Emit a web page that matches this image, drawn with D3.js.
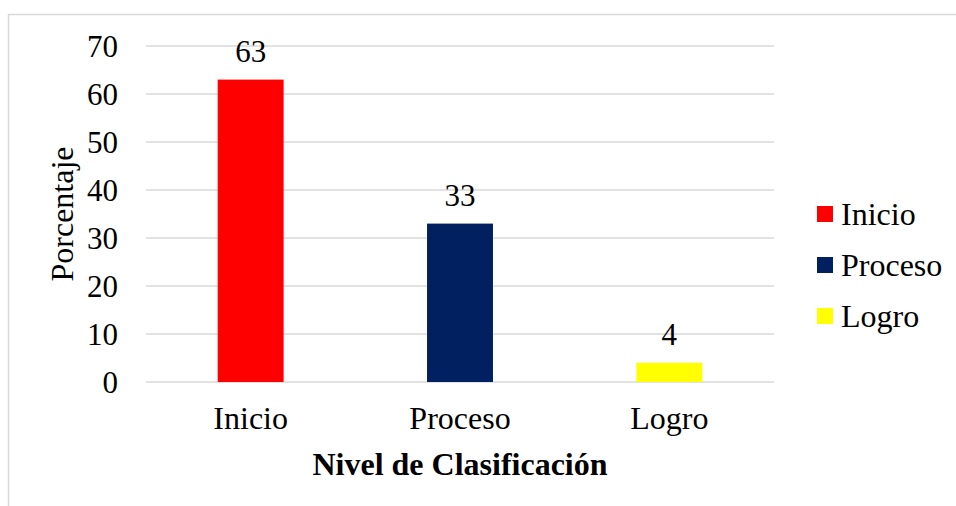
<!DOCTYPE html>
<html>
<head>
<meta charset="utf-8">
<script src="https://cdn.jsdelivr.net/npm/d3@7"></script>
<style>
  body { margin: 0; background: #fff; }
  text { font-family: "Times New Roman", "Liberation Serif", serif; fill: #000; }
</style>
</head>
<body>
<div id="chart"></div>
<script>
// Chart data
const categories = ["Inicio", "Proceso", "Logro"];
const values = [63, 33, 4];
const colors = ["#ff0000", "#002060", "#ffff00"];
const yTicks = [0, 10, 20, 30, 40, 50, 60, 70];

const width = 956;
const height = 506;
const margin = { top: 46, right: 182, bottom: 124, left: 146 };

const svg = d3.select("#chart")
  .append("svg")
  .attr("width", width)
  .attr("height", height);

// outer frame (right and bottom edges are off the page)
svg.append("rect")
  .attr("x", 8.5)
  .attr("y", 14.5)
  .attr("width", width + 10)
  .attr("height", height + 10)
  .attr("fill", "none")
  .attr("stroke", "#d9d9d9")
  .attr("stroke-width", 1.5);

const x = d3.scaleBand()
  .domain(categories)
  .range([margin.left, width - margin.right])
  .paddingInner(0.685)
  .paddingOuter(0.3425);

const y = d3.scaleLinear()
  .domain([0, 70])
  .range([height - margin.bottom, margin.top]);

// gridlines
svg.append("g")
  .selectAll("line")
  .data(yTicks)
  .enter().append("line")
  .attr("x1", margin.left)
  .attr("x2", width - margin.right)
  .attr("y1", d => y(d))
  .attr("y2", d => y(d))
  .attr("stroke", "#d9d9d9")
  .attr("stroke-width", 1.5);

// y tick labels
svg.append("g")
  .selectAll("text")
  .data(yTicks)
  .enter().append("text")
  .attr("x", 118)
  .attr("y", d => y(d))
  .attr("dy", "0.34em")
  .attr("text-anchor", "end")
  .style("font-size", "31px")
  .text(d => d);

// bars
svg.append("g")
  .selectAll("rect")
  .data(values)
  .enter().append("rect")
  .attr("x", (d, i) => x(categories[i]))
  .attr("y", d => y(d))
  .attr("width", x.bandwidth())
  .attr("height", d => y(0) - y(d))
  .attr("fill", (d, i) => colors[i]);

// value labels
svg.append("g")
  .selectAll("text")
  .data(values)
  .enter().append("text")
  .attr("x", (d, i) => x(categories[i]) + x.bandwidth() / 2)
  .attr("y", d => y(d) - 18)
  .attr("text-anchor", "middle")
  .style("font-size", "31px")
  .text(d => d);

// x tick labels
svg.append("g")
  .selectAll("text")
  .data(categories)
  .enter().append("text")
  .attr("x", d => x(d) + x.bandwidth() / 2)
  .attr("y", 429)
  .attr("text-anchor", "middle")
  .style("font-size", "32px")
  .text(d => d);

// axis titles
svg.append("text")
  .attr("x", (margin.left + width - margin.right) / 2)
  .attr("y", 475)
  .attr("text-anchor", "middle")
  .style("font-size", "32px")
  .style("font-weight", "bold")
  .text("Nivel de Clasificación");

svg.append("text")
  .attr("transform", `translate(73, ${(y(0) + y(70)) / 2}) rotate(-90)`)
  .attr("text-anchor", "middle")
  .style("font-size", "32px")
  .text("Porcentaje");

// legend
const legend = svg.append("g")
  .selectAll("g")
  .data(categories)
  .enter().append("g")
  .attr("transform", (d, i) => `translate(817, ${206 + i * 51})`);

legend.append("rect")
  .attr("width", 16)
  .attr("height", 16)
  .attr("fill", (d, i) => colors[i]);

legend.append("text")
  .attr("x", 24)
  .attr("y", 8)
  .attr("dy", "0.34em")
  .style("font-size", "32px")
  .text(d => d);
</script>
</body>
</html>
